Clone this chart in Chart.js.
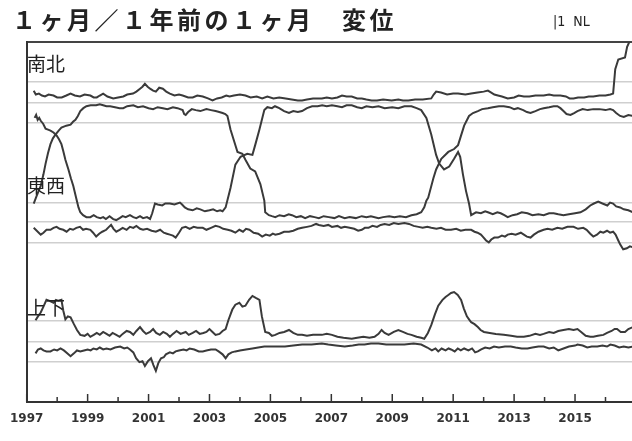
<!DOCTYPE html>
<html lang="ja">
<head>
    <meta charset="UTF-8">
    <title>1ヶ月／1年前の1ヶ月 変位</title>
    <style>
        body {
            margin: 0;
            background: #fff;
        }
        .wrap {
            position: relative;
            width: 632px;
            height: 441px;
        }
        .lbl {
            position: absolute;
            font-family: "Noto Sans CJK JP", sans-serif;
            color: #222;
            white-space: pre;
            line-height: 1;
        }
        .title { left: 12px; top: 7px; font-size: 24px; letter-spacing: 3.5px; font-weight: bold; }
        .code { left: 553px; top: 14px; font-size: 14px; font-family: "DejaVu Sans Condensed", "DejaVu Sans", sans-serif; }
        .panel { left: 27px; font-size: 19px; }
    </style>
</head>
<body>
<div class="wrap">
    <canvas id="chart" width="632" height="441"></canvas>
    <div class="lbl title">１ヶ月／１年前の１ヶ月　変位</div>
    <div class="lbl code">|1  NL</div>
    <div class="lbl panel" style="top:53px">南北</div>
    <div class="lbl panel" style="top:175px">東西</div>
    <div class="lbl panel" style="top:297px">上下</div>
</div>

<script src="https://cdn.jsdelivr.net/npm/chart.js"></script>
<script>
    // 南北
    const nsT = [1997.23, 1997.3, 1997.4, 1997.5, 1997.6, 1997.72, 1997.88, 1998.0, 1998.15, 1998.3, 1998.44, 1998.58, 1998.75, 1998.9, 1999.09, 1999.2, 1999.3, 1999.4, 1999.51, 1999.65, 1999.84, 2000.0, 2000.17, 2000.3, 2000.49, 2000.6, 2000.72, 2000.8, 2000.88, 2000.97, 2001.05, 2001.15, 2001.24, 2001.35, 2001.47, 2001.58, 2001.7, 2001.85, 2002.0, 2002.12, 2002.3, 2002.45, 2002.6, 2002.78, 2002.95, 2003.1, 2003.25, 2003.4, 2003.55, 2003.66, 2003.8, 2004.0, 2004.18, 2004.35, 2004.55, 2004.73, 2004.9, 2005.1, 2005.29, 2005.5, 2005.7, 2005.9, 2006.04, 2006.2, 2006.4, 2006.69, 2006.85, 2007.02, 2007.2, 2007.35, 2007.5, 2007.67, 2007.85, 2008.0, 2008.15, 2008.32, 2008.5, 2008.7, 2008.98, 2009.2, 2009.35, 2009.53, 2009.75, 2010.0, 2010.28, 2010.36, 2010.44, 2010.6, 2010.8, 2011.0, 2011.16, 2011.4, 2011.59, 2011.8, 2012.0, 2012.14, 2012.25, 2012.35, 2012.47, 2012.6, 2012.79, 2013.0, 2013.15, 2013.32, 2013.5, 2013.7, 2013.97, 2014.15, 2014.3, 2014.52, 2014.7, 2014.82, 2014.95, 2015.1, 2015.3, 2015.45, 2015.6, 2015.8, 2016.0, 2016.16, 2016.25, 2016.32, 2016.42, 2016.64, 2016.71, 2016.81, 2016.9];
    const nsV = [160, 158, 158.5, 157.5, 157, 158, 157.5, 156.5, 156.5, 157.5, 158.5, 157.5, 157, 158, 157.5, 156.5, 156.5, 157.5, 158.5, 157, 156, 156.5, 157, 158, 158.5, 159.5, 161, 162, 163.5, 162, 161, 160, 159.5, 161.5, 161, 159.5, 158.5, 157.5, 158, 157.5, 156.5, 156.5, 157.5, 157, 156, 155, 156, 156.5, 157.5, 157, 157.5, 158, 157.5, 156.5, 157, 156, 157, 156, 156.5, 156, 155.5, 155, 155, 155.5, 156, 156, 156.5, 156, 156.5, 157.5, 157, 157, 156, 156, 155.5, 155, 155, 155.5, 155, 155.5, 155, 155, 155.5, 155.5, 156, 158, 159.5, 159, 158, 158.5, 158.5, 158, 158.5, 159, 159.5, 160, 159, 158, 157.5, 157, 156, 156.5, 157.5, 157, 157, 157.5, 157.5, 158, 157.5, 157.5, 157, 156, 156, 156.5, 156.5, 157, 157, 157.5, 157.5, 158, 158.5, 171, 176, 177, 182.5, 186, 188];

    // 1年前の1ヶ月 (入れ替わる2本)
    const swapAT = [1997.26, 1997.31, 1997.36, 1997.41, 1997.46, 1997.54, 1997.62, 1997.7, 1997.78, 1997.88, 1997.98, 1998.06, 1998.14, 1998.2, 1998.27, 1998.37, 1998.45, 1998.53, 1998.63, 1998.7, 1998.76, 1998.85, 1998.96, 1999.09, 1999.2, 1999.3, 1999.42, 1999.51, 1999.6, 1999.72, 1999.84, 1999.94, 2000.05, 2000.15, 2000.25, 2000.39, 2000.5, 2000.6, 2000.72, 2000.82, 2000.95, 2001.05, 2001.12, 2001.21, 2001.3, 2001.45, 2001.55, 2001.7, 2001.85, 2002.03, 2002.1, 2002.19, 2002.3, 2002.45, 2002.58, 2002.7, 2002.85, 2003.0, 2003.12, 2003.25, 2003.35, 2003.43, 2003.53, 2003.69, 2003.85, 2004.02, 2004.24, 2004.41, 2004.5, 2004.64, 2004.8, 2004.9, 2005.05, 2005.15, 2005.29, 2005.45, 2005.61, 2005.75, 2005.9, 2006.04, 2006.2, 2006.37, 2006.55, 2006.7, 2006.85, 2007.02, 2007.2, 2007.35, 2007.5, 2007.67, 2007.85, 2008.0, 2008.15, 2008.35, 2008.55, 2008.75, 2009.0, 2009.2, 2009.4, 2009.63, 2009.8, 2009.95, 2010.12, 2010.28, 2010.44, 2010.54, 2010.7, 2010.87, 2011.03, 2011.16, 2011.23, 2011.32, 2011.42, 2011.52, 2011.59, 2011.75, 2011.91, 2012.05, 2012.14, 2012.3, 2012.45, 2012.56, 2012.68, 2012.79, 2012.95, 2013.1, 2013.25, 2013.44, 2013.6, 2013.8, 2013.97, 2014.15, 2014.3, 2014.45, 2014.62, 2014.8, 2015.0, 2015.18, 2015.35, 2015.5, 2015.62, 2015.76, 2015.9, 2016.06, 2016.15, 2016.25, 2016.35, 2016.48, 2016.6, 2016.75, 2016.9];
    const swapAV = [146, 147.5, 145, 146, 144.5, 143, 140.5, 140, 139.5, 138.5, 137, 135, 132.5, 129, 124.5, 119.5, 115, 111, 104.5, 100, 97.5, 96, 95, 95, 96, 95, 94.5, 95, 94, 95.5, 94, 93.5, 94.5, 95.5, 95, 96, 95, 94.5, 95.5, 94.5, 95, 94, 97, 102, 101.5, 101, 102, 102, 101.5, 102.5, 101.5, 100, 99, 98.5, 99.5, 99, 98, 98.5, 99, 98, 98.5, 98, 100, 110, 122, 126, 127.5, 127, 132, 140, 150, 151.5, 151, 152, 151, 149.5, 148.5, 149.5, 149, 149.5, 151, 152, 152, 152.5, 152, 152.5, 152, 151.5, 152.5, 152.5, 151.5, 151, 152, 151.5, 152, 151, 151.5, 151, 152, 152, 151, 150, 146, 137.5, 127, 122.5, 119.5, 121, 125, 128.5, 126, 117, 108.5, 102, 96, 97.5, 97, 98, 97.5, 96.5, 97.5, 97, 96, 95, 96, 96.5, 97.5, 97, 96, 96.5, 96, 97, 97, 96.5, 96, 96.5, 97, 97.5, 99, 101, 102, 103, 102, 101, 102.5, 102, 100.5, 100, 99, 98.5, 97.5];

    const swapBT = [1997.23, 1997.33, 1997.46, 1997.55, 1997.62, 1997.7, 1997.78, 1997.86, 1997.95, 1998.05, 1998.14, 1998.3, 1998.44, 1998.52, 1998.6, 1998.68, 1998.76, 1998.86, 1998.96, 1999.1, 1999.28, 1999.4, 1999.51, 1999.62, 1999.74, 1999.9, 2000.05, 2000.17, 2000.3, 2000.5, 2000.65, 2000.82, 2001.0, 2001.15, 2001.3, 2001.47, 2001.62, 2001.8, 2001.95, 2002.12, 2002.17, 2002.22, 2002.3, 2002.42, 2002.55, 2002.7, 2002.9, 2003.05, 2003.2, 2003.32, 2003.43, 2003.52, 2003.59, 2003.69, 2003.82, 2003.92, 2004.08, 2004.18, 2004.34, 2004.5, 2004.67, 2004.8, 2004.83, 2004.95, 2005.05, 2005.16, 2005.3, 2005.45, 2005.6, 2005.71, 2005.85, 2006.0, 2006.14, 2006.3, 2006.45, 2006.59, 2006.75, 2006.92, 2007.1, 2007.25, 2007.44, 2007.6, 2007.8, 2008.0, 2008.15, 2008.3, 2008.55, 2008.7, 2008.9, 2009.07, 2009.25, 2009.45, 2009.63, 2009.8, 2009.95, 2010.05, 2010.12, 2010.18, 2010.35, 2010.44, 2010.61, 2010.84, 2011.03, 2011.16, 2011.26, 2011.36, 2011.52, 2011.65, 2011.81, 2011.95, 2012.14, 2012.3, 2012.5, 2012.66, 2012.85, 2013.0, 2013.12, 2013.3, 2013.42, 2013.54, 2013.7, 2013.85, 2013.97, 2014.15, 2014.3, 2014.42, 2014.52, 2014.62, 2014.72, 2014.85, 2014.97, 2015.08, 2015.25, 2015.42, 2015.6, 2015.8, 2016.0, 2016.15, 2016.25, 2016.35, 2016.48, 2016.6, 2016.75, 2016.9];
    const swapBV = [102, 106, 111, 117, 122.5, 128, 132.5, 135.5, 137.5, 139.5, 141, 142, 142.5, 144, 145, 147, 149.5, 151, 152, 152.5, 152.5, 153, 152.5, 152, 152, 151.5, 151, 151, 152, 152.5, 151.5, 152, 151, 150.5, 151.5, 151, 150.5, 151.5, 151, 150, 148, 147.5, 149, 150.5, 150, 149.5, 150.5, 150, 149.5, 149, 148.5, 148, 147, 140, 133.5, 128.5, 127.5, 124.5, 120, 118.5, 112, 103.5, 97.5, 96, 95.5, 95, 96, 95.5, 96.5, 96, 95, 95.5, 94.5, 95.5, 95, 94.5, 95.5, 95, 94.5, 95.5, 94.5, 95, 94.5, 95.5, 95, 95.5, 94.5, 95, 95.5, 95, 95.5, 95, 96, 96.5, 97.5, 100, 103.5, 105, 115, 119.5, 125, 128.5, 130, 132, 137, 142, 147, 148.5, 149.5, 150.5, 151, 151.5, 152, 152, 151.5, 150.5, 151, 150, 149, 148.5, 149.5, 150.5, 151, 151.5, 152, 152, 151, 149.5, 148, 147.5, 148.5, 149.5, 150.5, 150, 150.5, 150.5, 150, 150.5, 150, 148.5, 147, 146.5, 147.5, 147];

    // 東西
    const ewT = [1997.23, 1997.33, 1997.46, 1997.55, 1997.65, 1997.78, 1997.88, 1997.98, 1998.08, 1998.2, 1998.31, 1998.42, 1998.52, 1998.63, 1998.75, 1998.85, 1998.95, 1999.09, 1999.18, 1999.28, 1999.38, 1999.48, 1999.61, 1999.7, 1999.77, 1999.85, 1999.94, 2000.05, 2000.15, 2000.28, 2000.39, 2000.5, 2000.6, 2000.72, 2000.82, 2000.95, 2001.1, 2001.24, 2001.38, 2001.5, 2001.6, 2001.7, 2001.8, 2001.89, 2002.0, 2002.1, 2002.22, 2002.35, 2002.48, 2002.6, 2002.78, 2002.9, 2003.05, 2003.2, 2003.33, 2003.45, 2003.6, 2003.72, 2003.85, 2003.98, 2004.1, 2004.2, 2004.31, 2004.45, 2004.6, 2004.73, 2004.85, 2004.98, 2005.08, 2005.16, 2005.3, 2005.45, 2005.61, 2005.75, 2005.9, 2006.04, 2006.2, 2006.35, 2006.5, 2006.59, 2006.75, 2006.9, 2007.02, 2007.2, 2007.32, 2007.44, 2007.6, 2007.75, 2007.88, 2008.0, 2008.1, 2008.22, 2008.35, 2008.5, 2008.62, 2008.75, 2008.9, 2009.05, 2009.2, 2009.4, 2009.55, 2009.7, 2009.86, 2010.0, 2010.15, 2010.28, 2010.45, 2010.6, 2010.75, 2010.93, 2011.1, 2011.25, 2011.4, 2011.59, 2011.7, 2011.8, 2011.91, 2012.0, 2012.08, 2012.17, 2012.25, 2012.35, 2012.47, 2012.6, 2012.7, 2012.79, 2012.92, 2013.05, 2013.22, 2013.32, 2013.42, 2013.54, 2013.65, 2013.8, 2013.97, 2014.1, 2014.25, 2014.42, 2014.58, 2014.75, 2014.95, 2015.1, 2015.27, 2015.38, 2015.5, 2015.6, 2015.72, 2015.83, 2015.93, 2016.05, 2016.15, 2016.25, 2016.33, 2016.42, 2016.48, 2016.58, 2016.7, 2016.8, 2016.9];
    const ewV = [89.5, 88, 86, 87, 88.5, 88.5, 89.5, 90, 89, 88.5, 87.5, 89, 88.5, 89.5, 90, 88.5, 89, 88.5, 87, 85, 86.5, 87.5, 88.5, 90, 91, 89, 87.5, 88.5, 89.5, 88.5, 90, 89.5, 90.5, 89, 88.5, 89, 88, 87.5, 88.5, 87, 86.5, 86, 85.5, 84.5, 87, 89.5, 90, 89, 90, 89.5, 89.5, 88.5, 89.5, 90.5, 90, 89, 88.5, 88, 87, 88.5, 87.5, 89, 88.5, 87, 86.5, 85, 86, 85.5, 86.5, 86, 86.5, 87.5, 87.5, 88, 89, 89.5, 90, 90.5, 91.5, 91, 90.5, 91, 90, 90.5, 89.5, 90, 89.5, 89, 88, 88.5, 89.5, 89.5, 90.5, 90, 91, 91.5, 91, 92, 91.5, 92, 91.5, 90.5, 90, 89.5, 90, 89.5, 89, 89.5, 88.5, 88.5, 89, 88, 88.5, 88.5, 87.5, 87, 86, 84.5, 83, 82, 83.5, 84.5, 84.5, 85.5, 85, 86, 86.5, 86, 87, 86, 85, 84.5, 86, 87.5, 88.5, 89, 88.5, 89.5, 89, 90, 90, 89, 89.5, 88.5, 86.5, 85, 86, 87.5, 87, 88, 87, 87.5, 86, 83, 81, 78.5, 79, 80, 79.5];

    // 上下
    const udT = [1997.29, 1997.37, 1997.46, 1997.55, 1997.65, 1997.75, 1997.88, 1997.96, 1998.04, 1998.14, 1998.2, 1998.27, 1998.35, 1998.44, 1998.55, 1998.65, 1998.76, 1998.9, 1999.0, 1999.09, 1999.2, 1999.3, 1999.4, 1999.51, 1999.62, 1999.72, 1999.82, 1999.94, 2000.05, 2000.15, 2000.28, 2000.39, 2000.5, 2000.6, 2000.72, 2000.82, 2000.92, 2001.05, 2001.15, 2001.25, 2001.37, 2001.48, 2001.6, 2001.7, 2001.8, 2001.92, 2002.05, 2002.22, 2002.32, 2002.45, 2002.56, 2002.68, 2002.8, 2002.9, 2003.0, 2003.1, 2003.2, 2003.33, 2003.43, 2003.53, 2003.62, 2003.75, 2003.85, 2003.98, 2004.08, 2004.18, 2004.3, 2004.41, 2004.52, 2004.64, 2004.72, 2004.83, 2004.95, 2005.05, 2005.16, 2005.3, 2005.45, 2005.61, 2005.75, 2005.9, 2006.04, 2006.2, 2006.4, 2006.69, 2006.85, 2007.02, 2007.2, 2007.4, 2007.67, 2007.85, 2008.05, 2008.25, 2008.42, 2008.55, 2008.65, 2008.75, 2008.88, 2009.05, 2009.2, 2009.35, 2009.5, 2009.63, 2009.8, 2009.95, 2010.05, 2010.17, 2010.28, 2010.4, 2010.51, 2010.65, 2010.75, 2010.84, 2010.93, 2011.03, 2011.15, 2011.26, 2011.35, 2011.45, 2011.52, 2011.59, 2011.7, 2011.81, 2011.9, 2012.01, 2012.2, 2012.4, 2012.66, 2012.9, 2013.1, 2013.32, 2013.5, 2013.7, 2013.85, 2013.97, 2014.15, 2014.3, 2014.45, 2014.62, 2014.8, 2014.95, 2015.08, 2015.2, 2015.35, 2015.5, 2015.6, 2015.75, 2015.93, 2016.05, 2016.2, 2016.3, 2016.38, 2016.5, 2016.64, 2016.75, 2016.9];
    const udV = [42, 44, 46, 49, 52.5, 52, 51, 52.5, 52, 52.5, 47, 42.5, 44, 43.5, 40, 37, 34.5, 34, 35, 33.5, 34.5, 35.5, 34.5, 36, 35, 34, 35.5, 34.5, 33.5, 35, 36.5, 36, 34.5, 36.5, 38.5, 36.5, 35, 36, 37.5, 35.5, 34.5, 36, 35, 33.5, 35, 36.5, 35, 36, 34.5, 35.5, 36.5, 35, 35.5, 36, 37.5, 36, 34.5, 35, 36.5, 37.5, 42, 47.5, 50, 51, 49, 49.5, 52.5, 54.5, 53.5, 52.5, 44, 36, 35.5, 34, 34.5, 35.5, 36, 37, 35.5, 34.5, 34.5, 34, 34.5, 34.5, 35, 34.5, 33.5, 33, 32.5, 33, 33.5, 33, 33.5, 35, 37, 35.5, 34.5, 36, 37, 36, 35, 34.5, 33.5, 33, 32.5, 35.5, 39.5, 45, 49.5, 52.5, 54, 55, 56, 56.5, 55, 52.5, 48, 44, 42.5, 41, 40, 38.5, 37, 36, 35.5, 35, 34.5, 34, 33.5, 33.5, 34, 35, 34.5, 35, 36, 35.5, 36.5, 37, 37.5, 37, 37.5, 36, 34, 33.5, 33.5, 34, 34.5, 35.5, 36.5, 37.5, 37.5, 36, 36, 37.5, 38.5];

    const udLowT = [1997.29, 1997.37, 1997.46, 1997.55, 1997.65, 1997.78, 1997.9, 1998.0, 1998.11, 1998.22, 1998.33, 1998.44, 1998.55, 1998.65, 1998.76, 1998.88, 1999.0, 1999.1, 1999.19, 1999.3, 1999.4, 1999.51, 1999.62, 1999.75, 1999.9, 2000.07, 2000.2, 2000.3, 2000.39, 2000.5, 2000.59, 2000.7, 2000.8, 2000.88, 2000.98, 2001.08, 2001.16, 2001.24, 2001.32, 2001.41, 2001.5, 2001.57, 2001.7, 2001.8, 2001.89, 2002.0, 2002.15, 2002.25, 2002.35, 2002.5, 2002.65, 2002.78, 2002.9, 2003.05, 2003.2, 2003.3, 2003.43, 2003.53, 2003.62, 2003.73, 2003.85, 2004.0, 2004.2, 2004.41, 2004.6, 2004.8, 2004.96, 2005.2, 2005.48, 2005.75, 2006.04, 2006.35, 2006.69, 2006.9, 2007.15, 2007.44, 2007.7, 2007.9, 2008.09, 2008.3, 2008.55, 2008.8, 2009.1, 2009.4, 2009.7, 2009.95, 2010.15, 2010.3, 2010.42, 2010.51, 2010.62, 2010.75, 2010.85, 2010.93, 2011.05, 2011.15, 2011.25, 2011.36, 2011.5, 2011.62, 2011.72, 2011.81, 2011.92, 2012.05, 2012.2, 2012.34, 2012.5, 2012.7, 2012.89, 2013.05, 2013.25, 2013.44, 2013.6, 2013.8, 2013.97, 2014.15, 2014.3, 2014.45, 2014.62, 2014.8, 2015.0, 2015.08, 2015.25, 2015.4, 2015.55, 2015.73, 2015.9, 2016.05, 2016.16, 2016.3, 2016.45, 2016.6, 2016.75, 2016.9];
    const udLowV = [25, 27, 27.5, 26.5, 26, 26, 27, 26.5, 27.5, 26.5, 25, 23.5, 25, 26.5, 26, 26.5, 27, 26.5, 27.5, 27, 28, 27, 27.5, 27, 28, 28.5, 27.5, 28, 27, 25.5, 22.5, 20.5, 21, 18.5, 21, 22.5, 19, 16, 20, 22.5, 23, 24.5, 25.5, 25, 26, 26.5, 27, 26.5, 27.5, 27, 26, 26, 26.5, 27, 27, 26, 24.5, 22.5, 24.5, 25.5, 26, 26.5, 27, 27.5, 28, 28.5, 28.5, 28.5, 28.5, 29, 29.5, 29.5, 30, 29.5, 29, 28.5, 29, 29.5, 29.5, 30, 30, 29.5, 29.5, 29.5, 30, 29.5, 28, 26.5, 27.5, 26, 27.5, 26.5, 27.5, 27, 26, 27.5, 26.5, 27.5, 26.5, 27.5, 25.5, 26, 27, 28, 27.5, 28.5, 28, 28.5, 28.5, 28, 27.5, 27.5, 28, 28.5, 28.5, 27.5, 28, 26.5, 27.5, 28.5, 29, 29.5, 29, 28, 28.5, 28.5, 29, 28.5, 29.5, 29, 28, 28.5, 28, 28.5];

    // 目盛り
    const tickYears = [1997, 1998, 1999, 2000, 2001, 2002, 2003, 2004, 2005, 2006, 2007, 2008, 2009, 2010, 2011, 2012, 2013, 2014, 2015, 2016];
    const labelYears = [1997, 1999, 2001, 2003, 2005, 2007, 2009, 2011, 2013, 2015];
    const gridValues = [20.5, 31, 41.5, 82, 92.5, 102.5, 143.5, 154, 164.5];
    const yTop = 185;

    function pts(t, v) {
        return t.map((x, i) => ({ x: x, y: v[i] }));
    }

    const lineStyle = {
        borderColor: '#3a3a3a',
        borderWidth: 2,
        pointRadius: 0,
        tension: 0,
        fill: false
    };

    // 軸の内側に目盛り線を描く
    const innerTicks = {
        id: 'innerTicks',
        afterDraw(chart) {
            const xs = chart.scales.x;
            const ctx = chart.ctx;
            const bottom = chart.chartArea.bottom;
            ctx.save();
            ctx.strokeStyle = '#333';
            ctx.lineWidth = 1.5;
            tickYears.forEach(function (yr) {
                const px = xs.getPixelForValue(yr);
                const len = labelYears.includes(yr) ? 8 : 5;
                ctx.beginPath();
                ctx.moveTo(px, bottom);
                ctx.lineTo(px, bottom - len);
                ctx.stroke();
            });
            ctx.restore();
        }
    };

    new Chart(document.getElementById('chart').getContext('2d'), {
        type: 'line',
        data: {
            datasets: [
                Object.assign({ label: '南北', data: pts(nsT, nsV) }, lineStyle),
                Object.assign({ label: 'A', data: pts(swapAT, swapAV) }, lineStyle),
                Object.assign({ label: 'B', data: pts(swapBT, swapBV) }, lineStyle),
                Object.assign({ label: '東西', data: pts(ewT, ewV) }, lineStyle),
                Object.assign({ label: '上下', data: pts(udT, udV) }, lineStyle),
                Object.assign({ label: '上下2', data: pts(udLowT, udLowV) }, lineStyle)
            ]
        },
        options: {
            responsive: false,
            animation: false,
            layout: {
                padding: { top: 42, right: 0, bottom: 4.6, left: 23 }
            },
            plugins: {
                legend: { display: false },
                tooltip: { enabled: false }
            },
            scales: {
                x: {
                    type: 'linear',
                    min: 1997,
                    max: 2016.87,
                    afterBuildTicks: function (scale) {
                        scale.ticks = tickYears.map(v => ({ value: v }));
                    },
                    ticks: {
                        autoSkip: false,
                        maxRotation: 0,
                        padding: 10,
                        color: '#333',
                        font: { family: 'DejaVu Sans', size: 12, weight: 'bold' },
                        callback: function (v) {
                            return labelYears.includes(v) ? String(v) : '';
                        }
                    },
                    grid: { display: false, drawTicks: false },
                    border: { display: true, color: '#333', width: 2 }
                },
                y: {
                    min: 0,
                    max: yTop,
                    afterBuildTicks: function (scale) {
                        scale.ticks = gridValues.concat([yTop]).map(v => ({ value: v }));
                    },
                    ticks: { display: false },
                    grid: {
                        drawTicks: false,
                        color: ctx => ctx.tick && ctx.tick.value === yTop ? '#444' : '#cfcfcf',
                        lineWidth: ctx => ctx.tick && ctx.tick.value === yTop ? 2 : 1.5
                    },
                    border: { display: true, color: '#333', width: 2 }
                }
            }
        },
        plugins: [innerTicks]
    });
</script>
</body>
</html>
